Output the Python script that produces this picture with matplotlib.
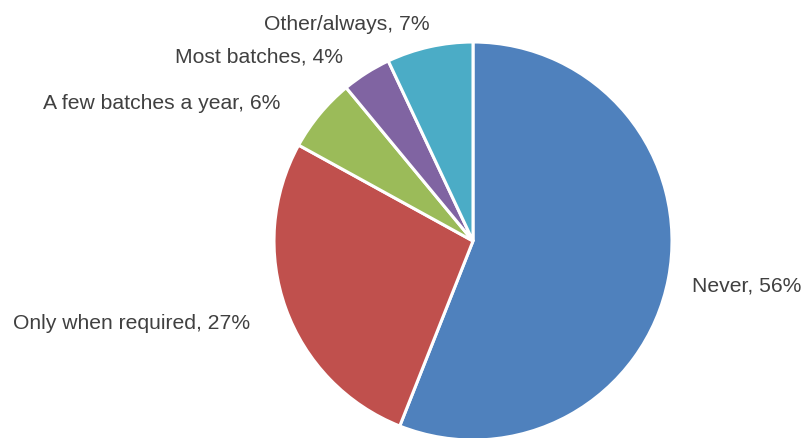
import matplotlib.pyplot as plt

plt.rcParams['font.family'] = ['Liberation Sans', 'DejaVu Sans']

# survey answers, clockwise from 12 o'clock
categories = ['Never', 'Only when required', 'A few batches a year',
              'Most batches', 'Other/always']
shares = [56, 27, 6, 4, 7]
colors = ['#4F81BD', '#C0504D', '#9BBB59', '#8064A2', '#4BACC6']

# where each label sits (in pie radii) and how it is anchored
label_pos = [(1.10, -0.225, 'left'),
             (-1.12, -0.415, 'right'),
             (-0.97, 0.69, 'right'),
             (-0.653, 0.925, 'right'),
             (-0.216, 1.09, 'right')]

fig = plt.figure(figsize=(8.02, 4.38), dpi=100)
ax = fig.add_axes([0, 0, 1, 1])

ax.pie(shares, colors=colors, startangle=90, counterclock=False,
       radius=1.0, wedgeprops=dict(edgecolor='white', linewidth=2.2))

for name, val, (x, y, ha) in zip(categories, shares, label_pos):
    ax.text(x, y, f"{name}, {val}%", ha=ha, va='center',
            fontsize=15.2, color='#404040')

# 1 unit = 199 px, pie centre at (473, 241) px from top-left
ax.set_xlim(-473 / 199, (802 - 473) / 199)
ax.set_ylim(-(438 - 241) / 199, 241 / 199)
ax.set_aspect('auto')
ax.axis('off')

fig.savefig('out.png', dpi=100)
